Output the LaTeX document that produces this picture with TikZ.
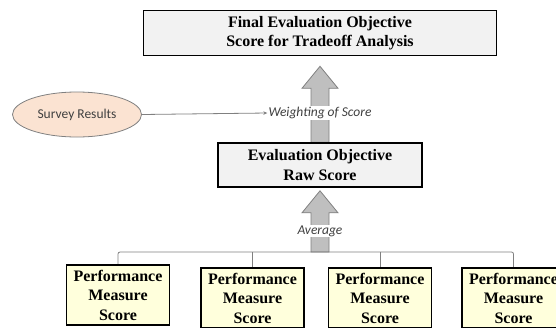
\documentclass[tikz,border=0pt]{standalone}
\usepackage{fontspec}
\setmainfont{Liberation Serif}
\setsansfont{Carlito}
\usetikzlibrary{shapes.geometric,calc,arrows.meta,backgrounds}

\definecolor{boxgray}{HTML}{F2F2F2}
\definecolor{measureyellow}{HTML}{FFFFDC}
\definecolor{surveypeach}{HTML}{FBE3D2}
\definecolor{arrowgray}{HTML}{BFBFBF}
\definecolor{linegray}{HTML}{808080}
\definecolor{labelgray}{HTML}{404040}

\tikzset{
    scorebox/.style={draw=black, line width=1.6pt, fill=boxgray, align=center,
        inner sep=2pt, font=\bfseries\fontsize{16}{19.5}\selectfont},
    measurebox/.style={scorebox, fill=measureyellow,
        minimum width=103pt, minimum height=60pt},
    steplabel/.style={fill=white, inner sep=1pt, text=labelgray,
        font=\sffamily\itshape\fontsize{13.5}{16}\selectfont},
    feed/.style={draw=linegray, line width=0.8pt},
    bigarrow/.style={fill=arrowgray, draw=linegray, line width=0.8pt}
}

% block arrow from #1 (shaft foot) up to #2 (tip)
\newcommand{\blockarrow}[2]{%
    \draw[bigarrow] ($(#1)+(-9,0)$) -- ($(#2)+(-9,22)$) -- ($(#2)+(-18,22)$)
        -- (#2) -- ($(#2)+(18,22)$) -- ($(#2)+(9,22)$) -- ($(#1)+(9,0)$) -- cycle;}

\begin{document}
\begin{tikzpicture}[x=1pt,y=-1pt]
    \useasboundingbox (0,0) rectangle (556,327);
    \clip (0,0) rectangle (556,327);

    \node[scorebox, minimum width=353pt, minimum height=45pt]
        (final) at (320,33) {Final Evaluation Objective\\Score for Tradeoff Analysis};
    \node[scorebox, minimum width=204pt, minimum height=44pt]
        (raw) at (320,165) {Evaluation Objective\\Raw Score};
    \node[ellipse, draw=linegray, line width=0.8pt, fill=surveypeach,
        minimum width=129pt, minimum height=45pt, text=labelgray,
        font=\sffamily\fontsize{13.5}{16}\selectfont]
        (survey) at (77,114.5) {Survey Results};

    \node[measurebox] (m1) at (118,295) {Performance\\Measure\\Score};
    \node[measurebox] (m2) at (252.5,298) {Performance\\Measure\\Score};
    \node[measurebox] (m3) at (380,298) {Performance\\Measure\\Score};
    \node[measurebox] (m4) at (513.5,298) {Performance\\Measure\\Score};

    \coordinate (join) at (320,252);
    \coordinate (uptip) at ($(final.south)+(0,10)$);
    \coordinate (lowtip) at ($(raw.south)+(0,3)$);

    \begin{scope}[on background layer]
        \blockarrow{raw.north}{uptip}
        \blockarrow{join}{lowtip}
        % bracket over the measure boxes
        \draw[feed, rounded corners=2pt] (m1.north) |- (m4.north |- join) -- (m4.north);
        \draw[feed] (m2.north) -- (m2.north |- join);
        \draw[feed] (m3.north) -- (m3.north |- join);
    \end{scope}

    \node[steplabel] (weighting) at (320,113) {Weighting of Score};
    \node[steplabel] (average) at (320,231) {Average};

    \draw[feed, -{Stealth[length=4pt,width=3.5pt]}] (survey.east) -- (weighting.west);
\end{tikzpicture}
\end{document}
